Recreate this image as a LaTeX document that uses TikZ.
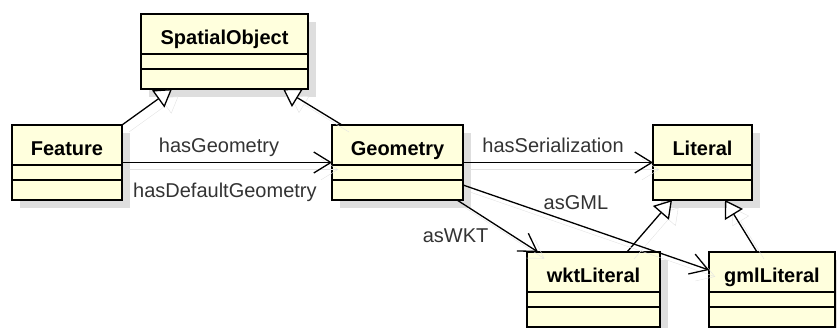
\documentclass[tikz,border=0pt]{standalone}
\usepackage{fontspec}
\setmainfont{Liberation Sans}
\usetikzlibrary{arrows.meta,shadows}

\definecolor{classfill}{RGB}{255,255,221}
\definecolor{shadowgray}{RGB}{222,222,222}

\tikzset{
  classbox/.style={draw, line width=2.8pt, fill=classfill, anchor=north west,
    minimum height=75pt, inner sep=0pt, outer sep=0pt,
    drop shadow={shadow xshift=8pt, shadow yshift=-8pt, fill=shadowgray, opacity=1}},
  classname/.style={font=\bfseries\fontsize{20}{24}\selectfont, inner sep=0pt,
    text height=14.5pt, text depth=4.2pt},
  sepline/.style={line width=1.3pt},
  edgeshadow/.style={general shadow={shadow xshift=7pt, shadow yshift=-7pt,
    fill=none, draw=black!11, opacity=1}},
  assoc/.style={line width=1.3pt, -{Straight Barb[length=17pt, width=21pt]}, edgeshadow},
  gen/.style={line width=1.3pt, -{Triangle[fill=white, length=17pt, width=21pt]}, edgeshadow},
  rolelabel/.style={font=\fontsize{20}{24}\selectfont, text=black!80, inner sep=2pt,
    text height=14.5pt, text depth=4.2pt}
}

\begin{document}
\begin{tikzpicture}[x=1pt, y=-1pt]
\useasboundingbox (0,0) rectangle (837,327);

% Classes
\node[classbox, minimum width=167pt] (spatial) at (141,14) {};
\node[classbox, minimum width=110pt] (feature) at (12,125) {};
\node[classbox, minimum width=131pt] (geometry) at (332,125) {};
\node[classbox, minimum width=99pt] (literal) at (653,125) {};
\node[classbox, minimum width=133pt] (wkt) at (527,252) {};
\node[classbox, minimum width=126pt] (gml) at (709,252) {};

% Names and compartments
\foreach \cls/\txt in {spatial/SpatialObject, feature/Feature, geometry/Geometry,
    literal/Literal, wkt/wktLiteral, gml/gmlLiteral} {
  \node[classname] (\cls name) at ([yshift=-25pt]\cls.north) {\txt};
  \draw[sepline] ([yshift=-40pt]\cls.north west) -- ([yshift=-40pt]\cls.north east);
  \draw[sepline] ([yshift=-55pt]\cls.north west) -- ([yshift=-55pt]\cls.north east);
}

% Generalizations
\draw[gen] (feature.north east) -- ([xshift=31pt]spatial.south west);
\draw[gen] ([xshift=10pt]geometry.north west) -- ([xshift=142pt]spatial.south west);
\draw[gen] ([xshift=100pt]wkt.north west) -- ([xshift=19pt]literal.south west);
\draw[gen] ([xshift=48pt]gml.north west) -- ([xshift=72pt]literal.south west);

% Associations
\draw[assoc] (feature) -- (geometry)
  node[rolelabel, pos=0.462, above=3.3pt] (hasgeom) {hasGeometry}
  node[rolelabel, pos=0.49, below=17.5pt] (hasdefgeom) {hasDefaultGeometry};
\draw[assoc] (geometry) -- (literal)
  node[rolelabel, pos=0.474, above=3.3pt] (hasser) {hasSerialization};
\draw[assoc] ([xshift=-6pt]geometry.south east) -- ([xshift=11pt]wkt.north west)
  node[rolelabel, pos=0.726, left=24.8pt] (aswkt) {asWKT};
\draw[assoc] ([yshift=15pt]geometry.south east) -- ([yshift=-18pt]gml.north west)
  node[rolelabel, pos=0.459, above=7.8pt] (asgml) {asGML};
\end{tikzpicture}
\end{document}
